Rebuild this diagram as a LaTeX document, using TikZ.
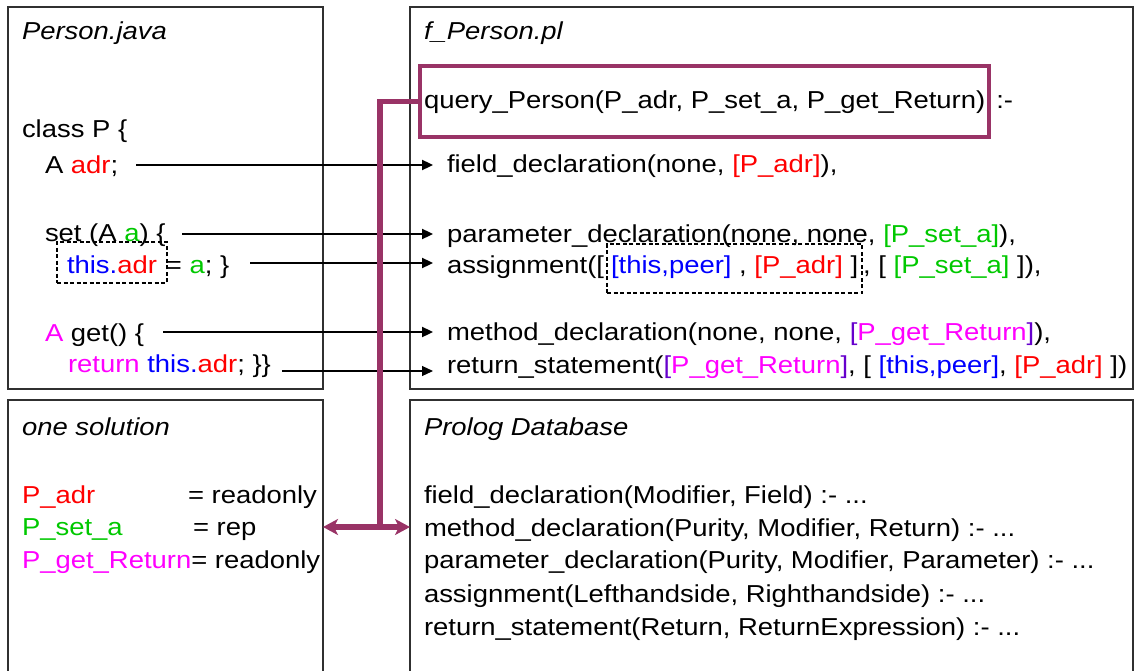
\documentclass[tikz,border=0pt]{standalone}
\usepackage{fontspec}
\setmainfont{Liberation Sans}[FakeStretch=1.12]
\usetikzlibrary{arrows.meta,calc}
\definecolor{kred}{HTML}{FF0000}
\definecolor{kgreen}{HTML}{00C800}
\definecolor{kblue}{HTML}{0000FF}
\definecolor{kmag}{HTML}{FF00FF}
\definecolor{kviolet}{HTML}{6600CC}
\definecolor{plum}{HTML}{993366}
\definecolor{frame}{HTML}{303030}
\newcommand{\colR}[1]{\textcolor{kred}{#1}}
\newcommand{\colG}[1]{\textcolor{kgreen}{#1}}
\newcommand{\colB}[1]{\textcolor{kblue}{#1}}
\newcommand{\colM}[1]{\textcolor{kmag}{#1}}
\newcommand{\colV}[1]{\textcolor{kviolet}{#1}}
\begin{document}
\begin{tikzpicture}[x=1pt,y=-1pt,
  txt/.style={anchor=base west, inner sep=0pt, outer sep=0pt,
    font=\fontsize{24.5}{33}\selectfont},
  ttl/.style={txt, font=\fontsize{24.5}{33}\selectfont\itshape},
  panel/.style={draw=frame, line width=1.5pt, anchor=north west,
    inner sep=0pt, outer sep=0pt},
  maparrow/.style={line width=2.3pt, -{Triangle[length=11pt,width=10pt]},
    shorten >=14pt},
  dashbox/.style={draw, line width=1.5pt, dash pattern=on 4pt off 2.5pt},
  pline/.style={draw=plum, line width=5.5pt},
]
\useasboundingbox (0,0) rectangle (1134,671);
\clip (0,0) rectangle (1134,671);

% four panels
\node[panel, minimum width=315pt, minimum height=382pt] (java) at (8,7) {};
\node[panel, minimum width=723pt, minimum height=382pt] (pl) at (410,7) {};
\node[panel, minimum width=315pt, minimum height=300pt] (sol) at (8,400) {};
\node[panel, minimum width=723pt, minimum height=300pt] (db) at (410,400) {};

% Java source
\node[ttl] (jt) at (22,40) {Person.java};
\node[txt] (L1) at (22,138) {class P \{};
\node[txt] (L2) at (45,174) {A \colR{adr};};
\node[txt] (L3) at (45,241) {set (A \colG{a}) \{};
\node[txt, dashbox, inner xsep=10pt, inner ysep=10pt, text height=21pt,
  text depth=0pt] (L4a) at (57,273) {\colB{this.}\colR{adr}};
\node[txt] (L4b) at ($(L4a.base east)+(-1,0)$) {= \colG{a}; \}};
\node[txt] (L5) at (45,341) {\colM{A} get() \{};
\node[txt] (L6) at (68,372) {\colM{return} \colB{this.}\colR{adr}; \}\}};

% generated Prolog query
\node[ttl] (ft) at (424,40) {f\_Person.pl};
\node[txt, draw=plum, line width=4pt, inner xsep=4pt, inner ysep=22pt,
  text height=21pt, text depth=6pt] (query) at (420,109)
  {query\_Person(P\_adr, P\_set\_a, P\_get\_Return)\hspace{8pt}};
\node[txt] (neck) at ($(query.base east)+(7,0)$) {:-};
\node[txt] (R1) at (447,173) {field\_declaration(none, \colR{[P\_adr]}),};
\node[txt] (R2) at (447,242) {parameter\_declaration(none, none, \colG{[P\_set\_a]}),};
\node[txt] (R3a) at (447,273) {assignment([};
\node[txt, dashbox, inner xsep=4pt, inner ysep=8pt, text height=21pt,
  text depth=12pt] (R3b) at ($(R3a.base east)+(3,0)$)
  {\colB{[this,peer]} , \colR{[P\_adr]} ]};
\node[txt] (R3c) at ($(R3b.base east)+(1,0)$) {, [ \colG{[P\_set\_a]} ]),};
\node[txt] (R4) at (447,340) {method\_declaration(none, none, \colV{[}\colM{P\_get\_Return}\colV{]}),};
\node[txt] (R5) at (447,373) {return\_statement(\colV{[}\colM{P\_get\_Return}\colV{]}, [ \colB{[this,peer]}, \colR{[P\_adr]} ])};

% solution
\node[ttl] (st) at (22,435) {one solution};
\node[txt] (S1) at (22,503) {\colR{P\_adr}};
\node[txt] (S1v) at (188,503) {= readonly};
\node[txt] (S2) at (22,535) {\colG{P\_set\_a}};
\node[txt] (S2v) at (193,535) {= rep};
\node[txt] (S3) at (22,568) {\colM{P\_get\_Return}};
\node[txt] (S3v) at (S3.base east) {= readonly};

% Prolog database
\node[ttl] (dt) at (424,435) {Prolog Database};
\node[txt] (D1) at (424,503) {field\_declaration(Modifier, Field) :- ...};
\node[txt] (D2) at (424,536) {method\_declaration(Purity, Modifier, Return) :- ...};
\node[txt] (D3) at (424,568) {parameter\_declaration(Purity, Modifier, Parameter) :- ...};
\node[txt] (D4) at (424,602) {assignment(Lefthandside, Righthandside) :- ...};
\node[txt] (D5) at (424,635) {return\_statement(Return, ReturnExpression) :- ...};

% mapping arrows
\coordinate (a1) at ($(L2.base east)+(18,-9)$);
\coordinate (a2) at ($(L3.base east)+(17,-7)$);
\coordinate (a3) at ($(L4b.base east)+(21,-10)$);
\coordinate (a4) at ($(L5.base east)+(19,-9)$);
\coordinate (a5) at ($(L6.base east)+(11,-1)$);
\draw[maparrow] (a1) -- (a1 -| R1.west);
\draw[maparrow] (a2) -- (a2 -| R2.west);
\draw[maparrow] (a3) -- (a3 -| R3a.west);
\draw[maparrow] (a4) -- (a4 -| R4.west);
\draw[maparrow, line width=1.2pt] (a5) -- (a5 -| R5.west);

% query link to solution and database
\coordinate (hub) at (380,527);
\draw[pline] (query.west) -| (hub);
\draw[pline, {Stealth[length=15pt,width=16pt,inset=4pt]}-{Stealth[length=15pt,width=16pt,inset=4pt]}]
  (sol.east |- hub) -- (db.west |- hub);
\end{tikzpicture}
\end{document}
